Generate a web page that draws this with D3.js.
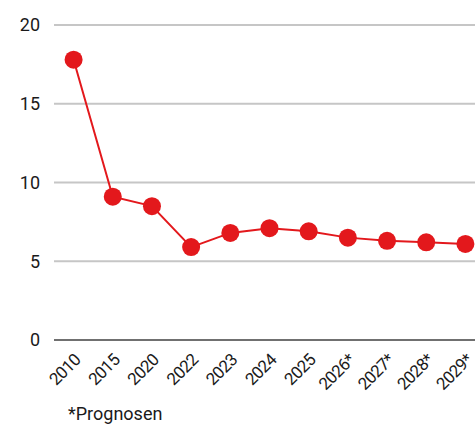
<!DOCTYPE html>
<html>
<head>
<meta charset="utf-8">
<script src="https://cdn.jsdelivr.net/npm/d3@7"></script>
<style>
  body { margin: 0; background: #fff; }
  text { font-family: Roboto, "Liberation Sans", sans-serif; fill: #1a1a1a; }
</style>
</head>
<body>
<div id="chart"></div>
<script>
// data
var years = ['2010', '2015', '2020', '2022', '2023', '2024', '2025', '2026*', '2027*', '2028*', '2029*'];
var values = [17.8, 9.1, 8.5, 5.9, 6.8, 7.1, 6.9, 6.5, 6.3, 6.2, 6.1];
var y_ticks = [0, 5, 10, 15, 20];
var note = '*Prognosen';

var W = 475, H = 424;
var red = '#e3181c';

var svg = d3.select('#chart').append('svg').attr('width', W).attr('height', H);

var x = d3.scalePoint().domain(years).range([54, 485]).padding(0.5);
var y = d3.scaleLinear().domain([0, 20]).range([340, 25]);

// grid
svg.append('g').selectAll('line').data(y_ticks).enter()
    .append('line')
    .attr('x1', 54).attr('x2', W)
    .attr('y1', d => y(d)).attr('y2', d => y(d))
    .style('stroke', d => d === 0 ? '#707070' : '#c6c6c6')
    .style('stroke-width', 2);

// y labels
svg.append('g').selectAll('text').data(y_ticks).enter()
    .append('text')
    .attr('x', 40).attr('y', d => y(d))
    .attr('dy', '0.35em')
    .style('text-anchor', 'end')
    .style('font-size', '18px')
    .text(d => d);

// x labels
svg.append('g').selectAll('text').data(years).enter()
    .append('text')
    .attr('transform', d => `translate(${x(d) + 8},${361}) rotate(-45)`)
    .style('text-anchor', 'end')
    .style('font-size', '17px')
    .style('letter-spacing', '-0.6px')
    .text(d => d);

// line
var line = d3.line().x((d, i) => x(years[i])).y(d => y(d));
svg.append('path').datum(values)
    .attr('d', line)
    .style('fill', 'none')
    .style('stroke', red)
    .style('stroke-width', 2);

svg.append('g').selectAll('circle').data(values).enter()
    .append('circle')
    .attr('cx', (d, i) => x(years[i]))
    .attr('cy', d => y(d))
    .attr('r', 9)
    .style('fill', red);

svg.append('text')
    .attr('x', 68).attr('y', 420)
    .style('font-size', '18px')
    .text(note);
</script>
</body>
</html>
